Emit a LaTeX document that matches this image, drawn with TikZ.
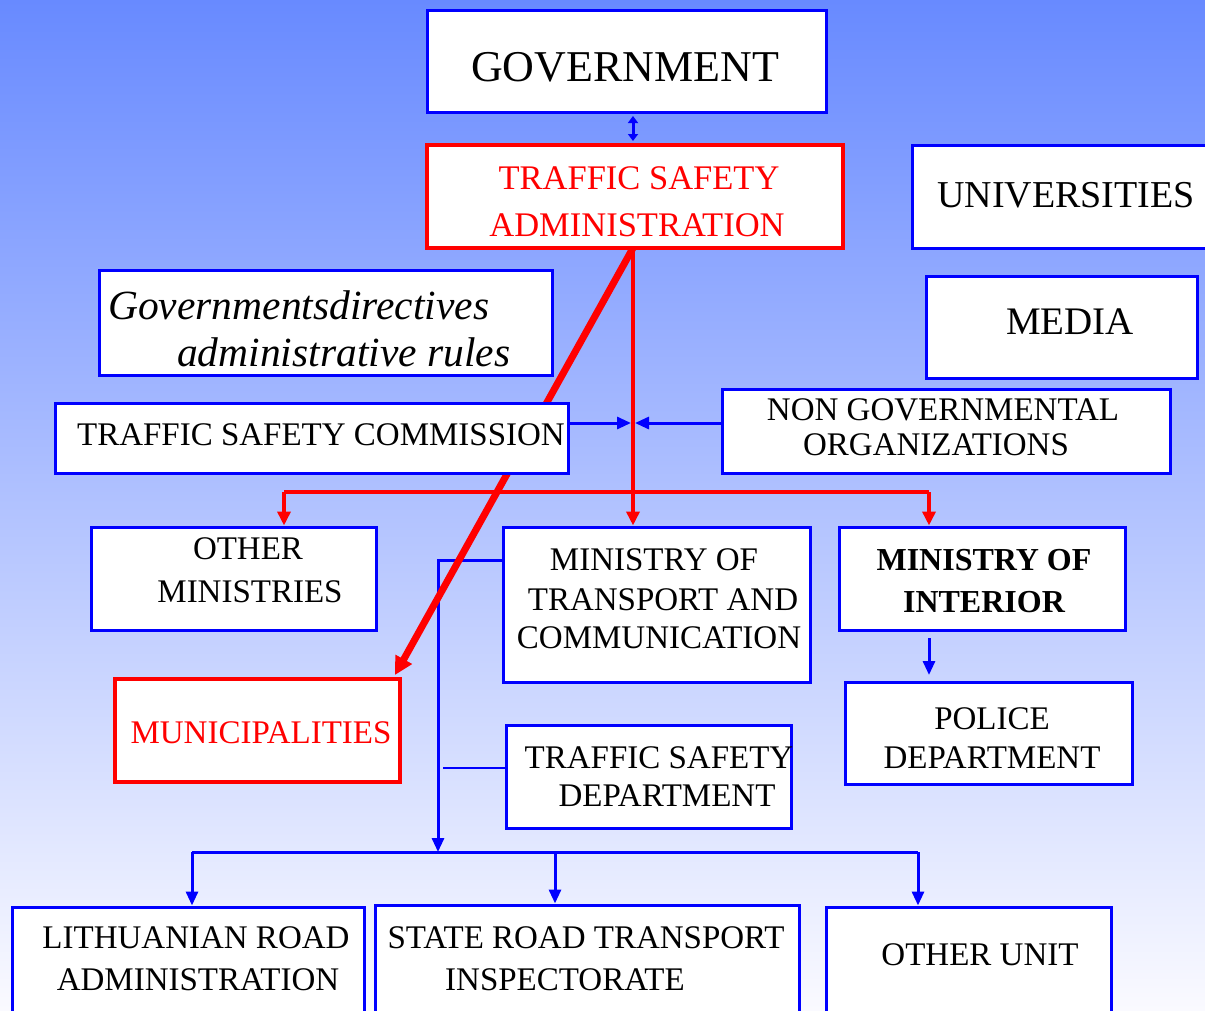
\documentclass[tikz,border=0pt]{standalone}
\usepackage{fontspec}
\setmainfont{Liberation Serif}
\usetikzlibrary{arrows.meta,fit,calc}
\definecolor{bgtop}{RGB}{104,138,255}
\definecolor{bgmid}{RGB}{204,211,255}
\definecolor{bgbot}{RGB}{250,250,255}
\definecolor{bblue}{RGB}{0,0,255}
\definecolor{rred}{RGB}{255,0,0}
\pgfdeclarelayer{bg}
\pgfdeclarelayer{conn}
\pgfsetlayers{bg,conn,main}
\begin{document}
\begin{tikzpicture}[x=1pt,y=-1pt,
  box/.style={draw=bblue, line width=3pt, fill=white, inner sep=0pt},
  rbox/.style={draw=rred, line width=4pt, fill=white, inner sep=0pt},
  txt/.style={inner sep=0pt, font=\fontsize{33}{38}\selectfont},
  rtxt/.style={txt, text=rred},
  bline/.style={draw=bblue, line width=3pt},
  barrow/.style={bline, -{Triangle[length=14pt,width=12pt]}},
  rline/.style={draw=rred, line width=4pt},
  rarrow/.style={rline, -{Triangle[length=14pt,width=13pt]}}
]
\useasboundingbox (0,0) rectangle (1205,1010);
\clip (0,0) rectangle (1205,1010);
\begin{pgfonlayer}{bg}
\shade[top color=bgtop, middle color=bgmid, bottom color=bgbot] (0,0) rectangle (1205,1010);
\end{pgfonlayer}

% boxes
\node[box, fit={(427,10) (826,112)}] (gov) {};
\node[rbox, fit={(427,145) (843,248)}] (tsa) {};
\node[box, fit={(912,145) (1215,248)}] (univ) {};
\node[box, fit={(926,276) (1197,378)}] (media) {};
\node[box, fit={(99,270) (552,375)}] (dir) {};
\node[box, fit={(55,403) (568,473)}] (tsc) {};
\node[box, fit={(722,389) (1170,473)}] (ngo) {};
\node[box, fit={(91,527) (376,630)}] (oth) {};
\node[box, fit={(503,527) (810,682)}] (motc) {};
\node[box, fit={(839,527) (1125,630)}] (moi) {};
\node[rbox, fit={(115,679) (400,782)}] (mun) {};
\node[box, fit={(845,682) (1132,784)}] (pol) {};
\node[box, fit={(506,725) (791,828)}] (tsd) {};
\node[box, fit={(12,907) (364,1020)}] (lra) {};
\node[box, fit={(375,905) (799,1020)}] (srti) {};
\node[box, fit={(826,907) (1111,1020)}] (ou) {};

% texts
\node[txt, font=\fontsize{44}{50}\selectfont] (gov-t) at (625,67) {GOVERNMENT};
\node[rtxt, font=\fontsize{34.5}{40}\selectfont] (tsa-t1) at (639,178) {TRAFFIC SAFETY};
\node[rtxt, font=\fontsize{34.5}{40}\selectfont] (tsa-t2) at (637,225) {ADMINISTRATION};
\node[txt, font=\fontsize{38}{44}\selectfont] (univ-t) at (1066,195) {UNIVERSITIES};
\node[txt, font=\fontsize{39}{44}\selectfont] (media-t) at (1070,322) {MEDIA};
\node[txt, anchor=west, font=\fontsize{41.5}{47}\selectfont\itshape] (dir-t1) at (108,305) {Governmentsdirectives};
\node[txt, anchor=west, font=\fontsize{41.5}{47}\selectfont\itshape] (dir-t2) at (177,352) {administrative rules};
\node[txt] (tsc-t) at (321,435) {TRAFFIC SAFETY COMMISSION};
\node[txt] (ngo-t1) at (943,410) {NON GOVERNMENTAL};
\node[txt] (ngo-t2) at (936,445) {ORGANIZATIONS};
\node[txt] (oth-t1) at (248,549) {OTHER};
\node[txt] (oth-t2) at (250,592) {MINISTRIES};
\node[txt] (motc-t1) at (654,560) {MINISTRY OF};
\node[txt] (motc-t2) at (663,600) {TRANSPORT AND};
\node[txt] (motc-t3) at (659,638) {COMMUNICATION};
\node[txt, font=\fontsize{32}{38}\selectfont\bfseries] (moi-t1) at (984,560) {MINISTRY OF};
\node[txt, font=\fontsize{32}{38}\selectfont\bfseries] (moi-t2) at (984,602) {INTERIOR};
\node[rtxt] (mun-t) at (261,733) {MUNICIPALITIES};
\node[txt] (pol-t1) at (992,719) {POLICE};
\node[txt] (pol-t2) at (992,758) {DEPARTMENT};
\node[txt] (tsd-t1) at (659,758) {TRAFFIC SAFETY};
\node[txt] (tsd-t2) at (667,796) {DEPARTMENT};
\node[txt] (lra-t1) at (196,938) {LITHUANIAN ROAD};
\node[txt] (lra-t2) at (198,980) {ADMINISTRATION};
\node[txt] (srti-t1) at (586,938) {STATE ROAD TRANSPORT};
\node[txt] (srti-t2) at (565,980) {INSPECTORATE};
\node[txt] (ou-t) at (980,955) {OTHER UNIT};

% connector coordinates
\coordinate (tsab) at (633,248);
\coordinate (ctr) at (633,423);
\coordinate (ctrL) at (631,423);
\coordinate (ctrR) at (635,423);
\coordinate (rbusL) at (284,492);
\coordinate (rbusR) at (929,492);
\coordinate (motcL) at (503,560);
\coordinate (bv) at (438,560);
\coordinate (bbus) at (438,852);
\coordinate (bbusL) at (192,852);
\coordinate (bbusM) at (555,852);
\coordinate (bbusR) at (918,852);
\coordinate (tsdend) at (443,768);
\coordinate (moia) at (929,638);
\coordinate (pola) at (929,675);
\coordinate (gova) at (633,116);
\coordinate (tsaa) at (633,141);

\begin{pgfonlayer}{conn}
% blue connectors under the red ones
\draw[barrow] (motcL) -- (bv) -- (bbus);
\draw[bline, line width=2pt] (tsd.west |- tsdend) -- (tsdend);
\draw[bline] (bbusL) -- (bbusR);
\draw[barrow] (bbusL) -- (bbusL |- lra.north);
\draw[barrow] (bbusM) -- (bbusM |- srti.north);
\draw[barrow] (bbusR) -- (bbusR |- ou.north);
% red connectors
\draw[rline, line width=7pt, -{Triangle[length=18pt,width=18pt]}] (tsab) -- ($(mun.north east)+(-7,-2)$);
\draw[rarrow] (tsab) -- (tsab |- motc.north);
\draw[rline] (rbusL) -- (rbusR);
\draw[rarrow] (rbusL) -- (rbusL |- oth.north);
\draw[rarrow] (rbusR) -- (rbusR |- moi.north);
% blue on top
\draw[barrow] (tsc.east |- ctr) -- (ctrL);
\draw[barrow] (ngo.west |- ctr) -- (ctrR);
\draw[barrow] (moia) -- (pola);
\draw[draw=bblue, line width=3pt, {Triangle[length=7pt,width=10pt]}-{Triangle[length=7pt,width=10pt]}] (gova) -- (tsaa);
\end{pgfonlayer}
\end{tikzpicture}
\end{document}
